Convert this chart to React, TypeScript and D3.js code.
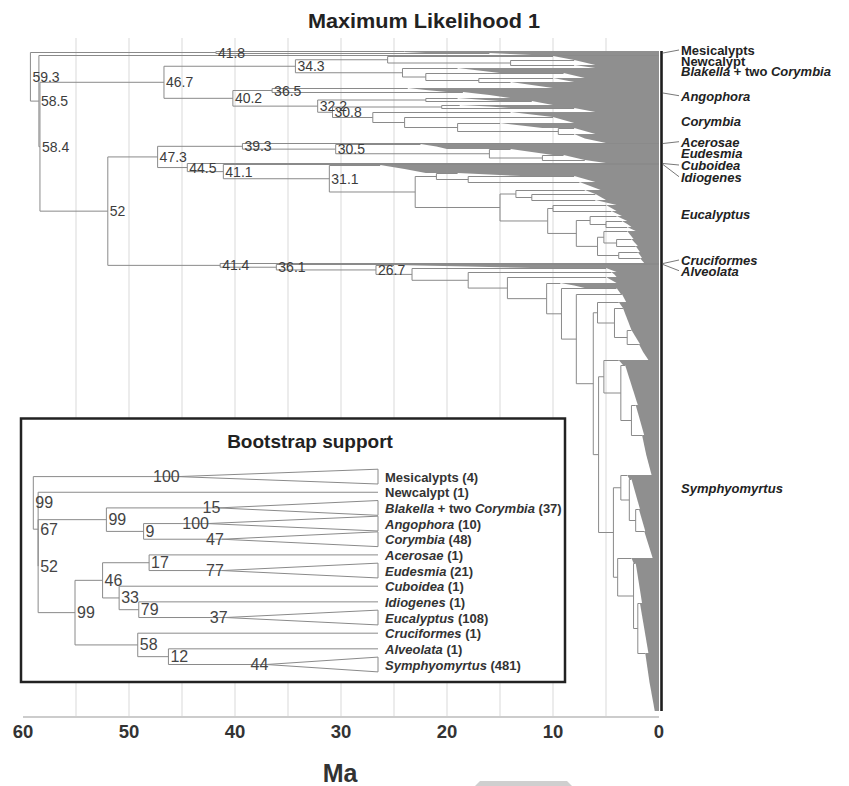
import * as d3 from "d3"

const FONT = "'Liberation Sans', Arial, Helvetica, sans-serif"

// clades, top to bottom ("*" marks italic parts)
const groupNames = [
  "Mesicalypts",
  "Newcalypt",
  "*Blakella* + two *Corymbia*",
  "*Angophora*",
  "*Corymbia*",
  "*Acerosae*",
  "*Eudesmia*",
  "*Cuboidea*",
  "*Idiogenes*",
  "*Eucalyptus*",
  "*Cruciformes*",
  "*Alveolata*",
  "*Symphyomyrtus*",
]
const groupTips = [4, 1, 37, 10, 48, 1, 21, 1, 1, 108, 1, 1, 481]

// right-hand label layout (spread out where clades are thin)
const labelY = [50, 60.7, 70.7, 95.7, 120.7, 141.7, 153, 165, 176.7, 214, 260, 270.7, 488]
const hasLeader = [true, false, false, true, false, true, false, true, true, false, true, true, false]

// ML chronogram. internal node: "(a,b)age" ("#" = age printed),
// leaf "n@a/b/c": n rows of a dense clade whose outline starts at a (top), b (middle), c (bottom) Ma
const mlClades = [
  "(2@24/24/22,2@16/14/12)41.8#",
  "1@0/0/0",
  `((4@10/9/8,(5@8/7/6,3@8/7/6)14)25.6,
    (5@19/17/15,(5@9/8/7,(4@10/9/8,6@14/12/10)17)22)24.2)34.3#`,
  "(4@23.7/22/20,6@18.5/16/14)36.5#",
  `((3@19/17/15,4@12/11/10)22,
    ((3@18.8/16/14,4@8/7/6)20.5,
     (5@14/12/10,(6@10/9/8,(5@15/13/11,(6@8/7/6,9@8/7/5)9.5)19)24)27)30.8#)32.2#`,
  "1@0/0/0",
  "(5@22.5/21/20,(6@14/12/10,(5@9/8/7,3@7/6/5)11)16)30.5#",
  "1@0/0/0",
  "1@0/0/0",
  `(8@26.3/24/22,
    ((3@19/16/13,(6@8/7/6,8@7.5/6.5/5.5)18)21,
     ((4@7/6.5/6,(6@6/5.5/5,5@6/5/4)12)13.5,
      ((6@5/4.5/4,5@4.5/4/3.5)10,
       ((5@4/3.5/3,(6@3.5/3/2.6,4@3/2.6/2.2)5)6.5,
        ((8@3/2.7/2.4,(7@2.6/2.3/2,6@2.2/2/1.8)4)5.2,
         (6@2/1.8/1.6,5@1.8/1.6/1.4)3.8)5.8)7.8)10.5)15)23)31.1#`,
  "1@0/0/0",
  "1@0/0/0",
  `(3@25/18/12,(4@5/4.5/4,(5@4.5/4.2/4,(6@5/4.5/4,(5@9.3/8/7,(6@4/3.8/3.6,(8@3.5/3.3/3.1,
    ((6@3.8/3.6/3.4,(22@3.4/3/2.6,(14@2.6/2.2/1.8,16@1.9/1.5/1)3)4.2)5.8,
     ((5@3.8/3.6/3.4,(40@3.2/2.6/2,(30@2.2/1.8/1.4,40@1.6/1.2/0.7)2.6)3.6)5.2,
      ((4@3/2.9/2.8,(30@2.6/2.2/1.8,(22@1.9/1.6/1.3,27@1.4/1/0.6)2.2)2.8)3.6,
       (5@2.6/2.5/2.4,(40@2.2/1.9/1.6,(50@1.8/1.4/1,58@1.3/0.9/0.4)2)2.4)3.9)4.3)5.7)6.2
   )7.8)9.2)10.6)14.3)18)23.3)26.7#`,
]
const mlBackbone =
  "(G0,(G1,((G2,(G3,G4)40.2#)46.7#,(((G5,G6)39.3#,(G7,(G8,G9)41.1#)44.5#)47.3#,(G10,(G11,G12)36.1#)41.4#)52#)58.4#)58.5#)59.3#"

// bootstrap cladogram: leaf = clade index, node "support@depth"
const bootTree =
  "(0,(1,((2,(3,4)9@32)99@21.2,(((5,6)17@33.6,(7,(8,9)79@30.6)33@24.9)46@20.1,(10,(11,12)12@39.2)58@30.3)99@12.1)52@1.4)67@1.4)99@0"
const bootClade = [100, null, 15, 100, 47, null, 77, null, null, 37, null, null, 44]
const bootApex = [41.9, null, 53.7, 50.4, 54.7, null, 54.7, null, null, 55.8, null, null, 67.6]

const ageTicks = [60, 50, 40, 30, 20, 10, 0]
const gridAges = [55, 50, 45, 40, 35, 30, 25, 20, 15, 10, 5]

interface PNode { tok: string; kids: PNode[] }

function parseNewick(src: string): PNode {
  const s = src.replace(/\s+/g, "")
  let i = 0
  const read = () => {
    const j = i
    while (i < s.length && !"(),".includes(s[i])) i++
    return s.slice(j, i)
  }
  const node = (): PNode => {
    if (s[i] === "(") {
      i++
      const kids = [node()]
      while (s[i] === ",") {
        i++
        kids.push(node())
      }
      i++
      return { tok: read(), kids }
    }
    return { tok: read(), kids: [] }
  }
  return node()
}

interface MLNode {
  age: number
  label: string
  kids: MLNode[]
  n: number
  edge: number[]
  group: number
  row0: number
  y: number
}

function toML(p: PNode, group: number): MLNode {
  if (p.kids.length) {
    return {
      age: parseFloat(p.tok),
      label: p.tok.endsWith("#") ? p.tok.slice(0, -1) : "",
      kids: p.kids.map((k) => toML(k, group)),
      n: 0, edge: [], group, row0: 0, y: 0,
    }
  }
  if (p.tok[0] === "G") {
    const g = +p.tok.slice(1)
    return toML(parseNewick(mlClades[g]), g)
  }
  const [n, e] = p.tok.split("@")
  const edge = e.split("/").map(Number)
  return { age: edge[0], label: "", kids: [], n: +n, edge, group, row0: 0, y: 0 }
}

function italicParts(name: string) {
  return name.split("*").map((t, i) => ({ t, it: i % 2 === 1 }))
}

export default function App() {
  const x = d3.scaleLinear().domain([60, 0]).range([23, 659])
  const x0 = x(0)

  // ----- ML tree layout
  const mlRoot = d3.hierarchy(toML(parseNewick(mlBackbone), -1), (d) => d.kids)
  let row = 0
  mlRoot.leaves().forEach((l) => {
    l.data.row0 = row
    row += l.data.n
  })
  const totalRows = row
  const yRow = d3.scaleLinear().domain([0, totalRows]).range([51, 711])
  mlRoot.eachAfter((nd) => {
    const d = nd.data
    if (!d.kids.length) d.y = yRow(d.row0 + 0.5)
    else d.y = (d.kids[0].y + d.kids[d.kids.length - 1].y) / 2
  })

  const segs: [number, number, number, number][] = []
  const blocks: string[] = []
  const nodeLabels: { x: number; y: number; t: string }[] = []
  mlRoot.each((nd) => {
    const d = nd.data
    if (d.kids.length) {
      const px = x(d.age)
      segs.push([px, d.kids[0].y, px, d.kids[d.kids.length - 1].y])
      d.kids.forEach((k) => segs.push([px, k.y, x(k.age), k.y]))
      if (d.label) nodeLabels.push({ x: px + 2, y: d.y, t: d.label })
    } else if (d.edge[0] > 0) {
      const y0 = yRow(d.row0)
      const y1 = yRow(d.row0 + d.n)
      const p = d3.line()([
        [x(d.edge[0]), y0],
        [x0, y0],
        [x0, y1],
        [x(d.edge[2]), y1],
        [x(d.edge[1]), (y0 + y1) / 2],
      ])
      blocks.push(p + "Z")
    }
  })

  const groupMid = groupNames.map((_, g) => {
    const ls = mlRoot.leaves().filter((l) => l.data.group === g)
    const a = ls[0].data.row0
    const b = ls[ls.length - 1].data.row0 + ls[ls.length - 1].data.n
    return yRow((a + b) / 2)
  })

  // ----- bootstrap inset layout
  const bx = d3.scaleLinear().domain([0, 100]).range([33.3, 378])
  const by = d3.scaleLinear().domain([0, 12]).range([476.6, 664.5])
  const bRoot = d3.hierarchy(parseNewick(bootTree), (d) => d.kids)
  const bPos = new Map<d3.HierarchyNode<PNode>, { x: number; y: number }>()
  bRoot.eachAfter((nd) => {
    if (!nd.children) {
      bPos.set(nd, { x: bx(100), y: by(+nd.data.tok) })
    } else {
      const [, depth] = nd.data.tok.split("@")
      const a = bPos.get(nd.children[0])!
      const b = bPos.get(nd.children[nd.children.length - 1])!
      bPos.set(nd, { x: bx(+depth), y: (a.y + b.y) / 2 })
    }
  })
  const bSegs: [number, number, number, number][] = []
  const bTri: string[] = []
  const bNums: { x: number; y: number; t: string; end: boolean }[] = []
  const half = 7.4
  bRoot.each((nd) => {
    if (!nd.children) return
    const p = bPos.get(nd)!
    const kids = nd.children
    bSegs.push([p.x, bPos.get(kids[0])!.y, p.x, bPos.get(kids[kids.length - 1])!.y])
    bNums.push({ x: p.x + 2, y: p.y, t: nd.data.tok.split("@")[0], end: false })
    kids.forEach((k) => {
      const kp = bPos.get(k)!
      if (k.children) {
        bSegs.push([p.x, kp.y, kp.x, kp.y])
        return
      }
      const g = +k.data.tok
      const apex = bootApex[g]
      if (apex == null) {
        bSegs.push([p.x, kp.y, kp.x, kp.y])
        return
      }
      const ax = bx(apex)
      bSegs.push([p.x, kp.y, ax, kp.y])
      bTri.push(
        d3.line()([
          [ax, kp.y],
          [kp.x, kp.y - half],
          [kp.x, kp.y + half],
          [ax, kp.y],
        ])!
      )
      bNums.push({ x: ax + 2, y: kp.y, t: String(bootClade[g]), end: true })
    })
  })

  const lineCol = "#8a8a8a"

  return (
    <svg
      width={849}
      height={786}
      style={{ position: "absolute", left: 0, top: 0, background: "#fff" }}
      fontFamily={FONT}
    >
      <rect width={849} height={786} fill="#fff" />
      {/* title */}
      <text x={308} y={28} fontSize={21} fontWeight="bold" fill="#222" textLength={232} lengthAdjust="spacingAndGlyphs">
        Maximum Likelihood 1
      </text>

      {/* grid */}
      {gridAges.map((a) => (
        <line key={a} x1={x(a)} x2={x(a)} y1={38} y2={717} stroke="#d9d9d9" strokeWidth={1} />
      ))}
      <line x1={x(60)} x2={x0} y1={717} y2={717} stroke="#cccccc" strokeWidth={2} />
      {ageTicks.map((a) => (
        <text key={a} x={x(a)} y={738} textAnchor="middle" fontSize={18.5} fontWeight="bold" fill="#333">
          {a}
        </text>
      ))}
      <text x={340} y={782} textAnchor="middle" fontSize={25} fontWeight="bold" fill="#333">
        Ma
      </text>

      {/* ML tree */}
      <g>
        {blocks.map((p, i) => (
          <path key={i} d={p} fill="#8f8f8f" />
        ))}
        {segs.map((s, i) => (
          <line key={i} x1={s[0]} y1={s[1]} x2={s[2]} y2={s[3]} stroke={lineCol} strokeWidth={1} />
        ))}
        {nodeLabels.map((l, i) => (
          <text key={i} x={l.x} y={l.y} dominantBaseline="central" fontSize={14} fill="#3c3c3c">
            {l.t}
          </text>
        ))}
      </g>

      {/* clade bar + labels */}
      <rect x={660.2} y={yRow(0)} width={2.6} height={yRow(totalRows) - yRow(0)} fill="#1e1e1e" />
      {groupNames.map((name, g) => (
        <g key={name}>
          {hasLeader[g] && (
            <line x1={663} y1={groupMid[g]} x2={679} y2={labelY[g]} stroke="#555" strokeWidth={0.8} />
          )}
          <text
            x={681}
            y={labelY[g]}
            dominantBaseline="central"
            fontSize={13}
            fontWeight="bold"
            fill="#222"
            style={{ whiteSpace: "pre" }}
          >
            {italicParts(name).map((p, i) => (
              <tspan key={i} fontStyle={p.it ? "italic" : "normal"}>
                {p.t}
              </tspan>
            ))}
          </text>
        </g>
      ))}

      {/* bootstrap inset */}
      <rect x={21} y={418.5} width={544} height={263.5} fill="#fff" stroke="#222" strokeWidth={2.5} />
      <text x={310} y={448} textAnchor="middle" fontSize={19} fontWeight="bold" fill="#222">
        Bootstrap support
      </text>
      {bSegs.map((s, i) => (
        <line key={i} x1={s[0]} y1={s[1]} x2={s[2]} y2={s[3]} stroke={lineCol} strokeWidth={1} />
      ))}
      {bTri.map((p, i) => (
        <path key={i} d={p} fill="none" stroke={lineCol} strokeWidth={1} />
      ))}
      {bNums.map((l, i) => (
        <text
          key={i}
          x={l.x}
          y={l.y}
          dominantBaseline="central"
          textAnchor={l.end ? "end" : "start"}
          fontSize={16}
          fill="#444"
        >
          {l.t}
        </text>
      ))}
      {groupNames.map((name, g) => (
        <text
          key={name}
          x={bx(100) + 7}
          y={by(g)}
          dominantBaseline="central"
          fontSize={13}
          fontWeight="bold"
          fill="#333"
          style={{ whiteSpace: "pre" }}
        >
          {italicParts(name).map((p, i) => (
            <tspan key={i} fontStyle={p.it ? "italic" : "normal"}>
              {p.t}
            </tspan>
          ))}
          <tspan fontStyle="normal">{` (${groupTips[g]})`}</tspan>
        </text>
      ))}

      {/* scan artefact at the bottom edge */}
      <path d="M480,781L567,781L572,786L475,786Z" fill="#cfcfcf" />
    </svg>
  )
}
